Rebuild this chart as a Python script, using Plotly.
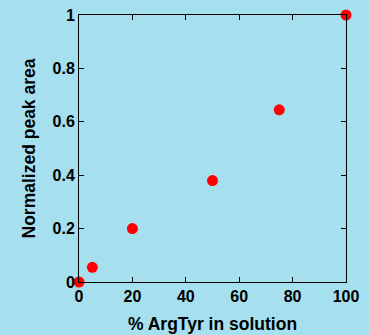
import plotly.graph_objects as go

x_vals = [0, 5, 20, 50, 75, 100]
y_vals = [0, 0.055, 0.2, 0.38, 0.645, 1.0]
x_ticks = [0, 20, 40, 60, 80, 100]
y_ticks = [0, 0.2, 0.4, 0.6, 0.8, 1]
y_tick_labels = ["0", "0.2", "0.4", "0.6", "0.8", "1"]

bg = "#a6e0ee"
font = dict(family="Liberation Sans, Arial, sans-serif", color="black", weight="bold")

fig = go.Figure(go.Scatter(
    x=x_vals, y=y_vals, mode="markers",
    marker=dict(color="#ff0000", size=11, line=dict(width=0)),
    cliponaxis=False,
))

axis_common = dict(
    showgrid=False, zeroline=False, showline=True, linecolor="black", linewidth=1,
    mirror="ticks", ticks="inside", ticklen=5, tickcolor="black", tickwidth=1,
    tickfont=dict(size=16, **font), automargin=False,
)

fig.update_layout(
    width=369, height=335,
    margin=dict(l=79, r=23, t=15, b=53),
    paper_bgcolor=bg, plot_bgcolor=bg,
    showlegend=False,
    xaxis=dict(range=[0, 100], tickvals=x_ticks,
               title=dict(text="% ArgTyr in solution", font=dict(size=17.5, **font), standoff=13),
               **axis_common),
    yaxis=dict(range=[0, 1], tickvals=y_ticks, ticktext=y_tick_labels,
               title=dict(text="Normalized peak area", font=dict(size=17.5, **font), standoff=12),
               **axis_common),
)

fig.write_html("out.html", config={"displayModeBar": False},
               post_script="document.body.style.margin='0';document.body.style.background='%s';" % bg)
